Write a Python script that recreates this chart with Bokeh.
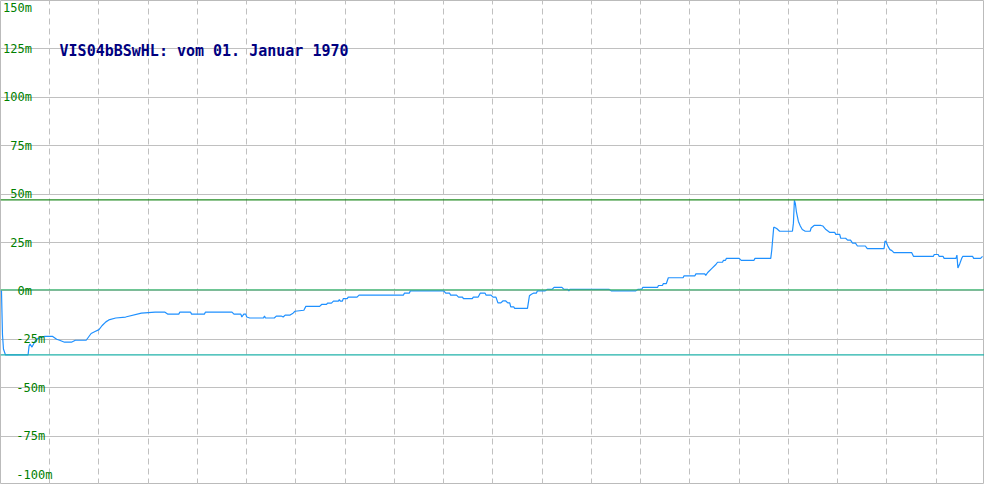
from bokeh.plotting import figure
from bokeh.models import Range1d, Span, Label, SingleIntervalTicker, FixedTicker
from bokeh.embed import file_html
from bokeh.resources import INLINE

# ---- data ----
t = [0, 1, 2, 3, 5, 28, 29, 30, 32, 35, 38, 41, 45, 53, 57, 60, 65, 72, 76, 87,
     92, 96, 100, 103, 107, 110, 117, 127, 143, 157, 167, 170, 181, 182, 193, 194,
     207, 208, 235, 237, 244, 245, 247, 249, 250, 253, 267, 268, 269, 278, 280, 285,
     287, 289, 294, 297, 299, 308, 310, 324, 326, 331, 332, 336, 338, 343, 344, 345,
     347, 348, 352, 353, 362, 364, 409, 410, 415, 416, 450, 452, 456, 457, 463, 465,
     469, 470, 479, 480, 485, 487, 492, 493, 498, 500, 503, 505, 508, 510, 513, 515,
     517, 518, 521, 522, 535, 537, 539, 541, 544, 545, 553, 555, 560, 562, 570, 572,
     576, 577, 578, 618, 620, 645, 647, 651, 652, 667, 668, 672, 673, 676, 678, 693,
     694, 705, 706, 715, 716, 718, 722, 726, 728, 733, 734, 736, 737, 750, 752, 765,
     766, 782, 783, 785, 786, 788, 791, 804, 805, 806, 807, 808, 810, 812, 814, 817,
     822, 823, 826, 833, 835, 838, 842, 847, 848, 852, 853, 858, 860, 863, 865, 868,
     870, 878, 880, 897, 898, 899, 901, 903, 905, 907, 925, 927, 947, 948, 952, 953,
     957, 958, 970, 971, 972, 974, 976, 977, 987, 988, 995, 997]
v = [0, 0, -22.5, -30, -33, -33, -28.5, -27.5, -29, -26, -24.5, -24, -23.5, -23.5, -25, -25.5, -26.5, -26.5, -25.5, -25.5,
     -22, -21, -20, -18, -16, -15, -14, -13.5, -11.5, -11, -11, -12, -12, -11, -11, -12,
     -12, -11, -11, -12, -12, -13.5, -12, -12, -13.5, -14, -14, -13, -14, -14, -13, -13,
     -13.5, -12.5, -12.5, -11.5, -10.5, -10, -8, -8, -7, -7, -6.3, -6.3, -5.3, -5.3, -4.5, -5.3,
     -5.3, -4, -4, -3.2, -3.2, -2.2, -2.2, -1.2, -1.2, 0, 0, -1.2, -1.2, -2.2, -2.2, -3.2,
     -3.2, -4, -4, -3.2, -3.2, -1.2, -1.2, -2.2, -2.2, -3.2, -3.2, -6.2, -6.2, -5.2, -5.2, -6.2,
     -6.2, -8.2, -8.2, -9, -9, -2.5, -1.7, -1.2, -1.2, 0, 0, 0.8, 0.8, 1.8, 1.8, 0.8,
     0.8, 0, 0.8, 0.8, 0, 0, 0.8, 0.8, 1.8, 1.8, 2.8, 2.8, 3.8, 3.8, 6.8, 6.8,
     7.8, 7.8, 8.8, 8.8, 8, 9.5, 11.5, 13.5, 14.8, 14.8, 15.8, 15.8, 16.8, 16.8, 15.8, 15.8,
     16.8, 16.8, 21, 32.8, 32.8, 32.2, 30.8, 30.8, 35, 46.8, 45, 41, 36, 33.5, 31.7, 30.8,
     30.8, 32.5, 33.8, 33.8, 33.5, 31.7, 30.2, 30.2, 29.2, 29.2, 27.2, 27.2, 26.2, 26.2, 24.7, 24.7,
     23.2, 23.2, 21.8, 21.8, 25.8, 25.5, 23, 21.3, 20.8, 19.8, 19.8, 17.8, 17.8, 18.8, 18.8, 17.8,
     17.8, 16.8, 16.8, 18.5, 11.8, 14.2, 17, 17.8, 17.8, 16.8, 16.8, 17.8]

upper_limit = 47
lower_limit = -33
mean_level = 0.5
y_ticks = [150, 125, 100, 75, 50, 25, 0, -25, -50, -75, -100]
y_tick_labels = ["150m", "125m", "100m", "75m", "50m", "25m", "0m", "-25m", "-50m", "-75m", "-100m"]
title_text = "VIS04bBSwHL: vom 01. Januar 1970"

W, H = 984, 484
sx = W / 1000.0

p = figure(width=W, height=H, output_backend="svg", toolbar_location=None,
           x_range=Range1d(0, 999), y_range=Range1d(-100, 150),
           min_border=0, min_border_left=0, min_border_right=0,
           min_border_top=0, min_border_bottom=0)
p.xaxis.visible = False
p.yaxis.visible = False
p.outline_line_color = "#bbbbbb"
p.background_fill_color = "white"
p.border_fill_color = "white"

p.xgrid.ticker = SingleIntervalTicker(interval=50)
p.xgrid.grid_line_color = "#c0c0c0"
p.xgrid.grid_line_dash = "6 4"
p.xgrid.grid_line_width = 1
p.ygrid.ticker = FixedTicker(ticks=y_ticks)
p.ygrid.grid_line_color = "#c0c0c0"
p.ygrid.grid_line_width = 1

p.add_layout(Span(location=upper_limit, dimension="width", line_color="#228b22", line_width=1.2))
p.add_layout(Span(location=lower_limit, dimension="width", line_color="#20b2aa", line_width=1.2))
p.add_layout(Span(location=mean_level, dimension="width", line_color="#3cb371", line_width=1.2))

p.line(t, v, line_color="#1e90ff", line_width=1.2)

for val, lab in zip(y_ticks, y_tick_labels):
    yy = val
    if val == 150:
        yy = 146
    if val == -100:
        yy = -95
    if val < 0:
        lbl = Label(x=16 * sx, y=yy, x_units="screen", y_units="data", text=lab,
                    text_align="left", text_baseline="middle",
                    text_font="DejaVu Sans Mono", text_font_size="12px", text_color="#008000")
    else:
        lbl = Label(x=32 * sx, y=yy, x_units="screen", y_units="data", text=lab,
                    text_align="right", text_baseline="middle",
                    text_font="DejaVu Sans Mono", text_font_size="12px", text_color="#008000")
    p.add_layout(lbl)

p.add_layout(Label(x=60 * sx, y=124, x_units="screen", y_units="data", text=title_text,
                   text_align="left", text_baseline="alphabetic",
                   text_font="DejaVu Sans Mono", text_font_size="15px",
                   text_font_style="bold", text_color="#000080"))

open("out.html", "w").write(file_html(p, INLINE))
